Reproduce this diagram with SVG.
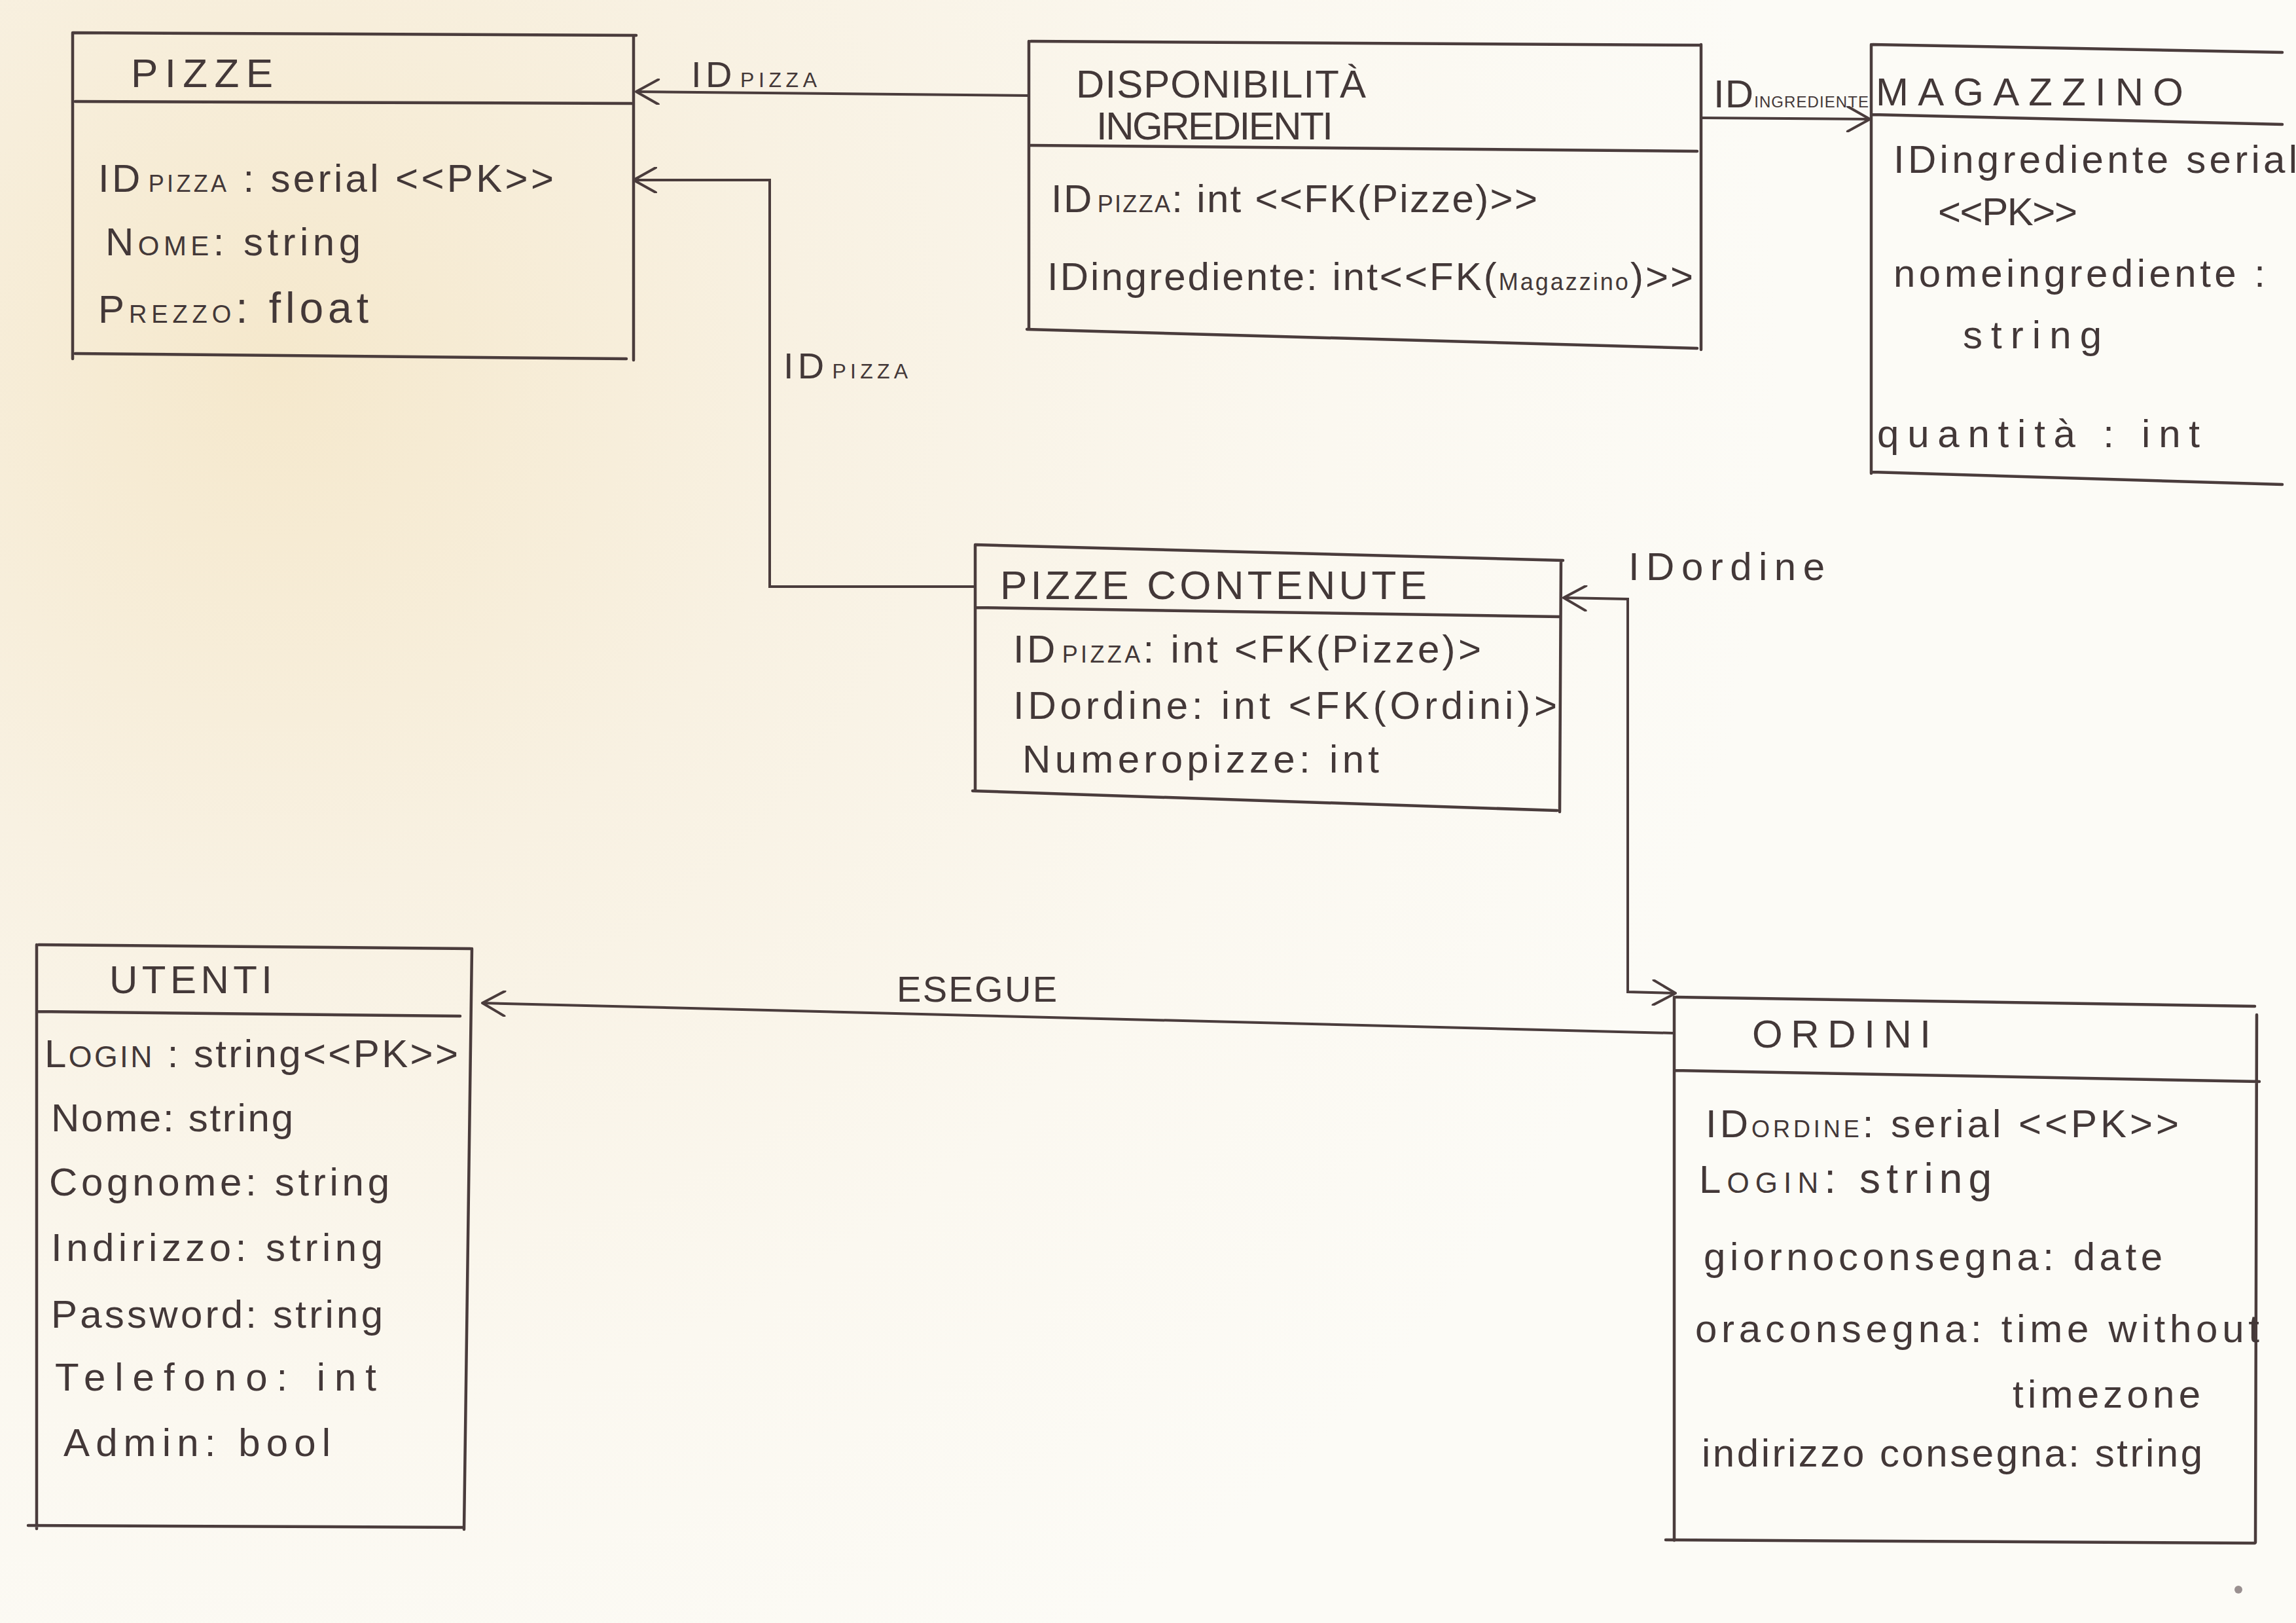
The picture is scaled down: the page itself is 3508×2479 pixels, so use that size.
<svg xmlns="http://www.w3.org/2000/svg" width="3508" height="2479" viewBox="0 0 3508 2479">
<defs>
<radialGradient id="paper" cx="420" cy="560" r="2300" gradientUnits="userSpaceOnUse">
<stop offset="0" stop-color="#f5e8cc"/>
<stop offset="0.35" stop-color="#f8f1e2"/>
<stop offset="0.7" stop-color="#fbf8f0"/>
<stop offset="1" stop-color="#fcfbf6"/>
</radialGradient>
<marker id="arr" viewBox="0 0 40 40" refX="37" refY="20" markerWidth="40" markerHeight="40" markerUnits="userSpaceOnUse" orient="auto-start-reverse">
<path d="M3,1 L37,20 L3,39" fill="none" stroke="#4a3c3c" stroke-width="4" stroke-linecap="round" stroke-linejoin="round"/>
</marker>
<style>
.box{fill:none;stroke:#4a3c3c;stroke-width:4.5;stroke-linecap:round}
.conn{fill:none;stroke:#4a3c3c;stroke-width:4}
text{font-family:"Liberation Sans","DejaVu Sans",sans-serif;fill:#433838;font-size:60px}
.ttl{font-size:62px}
.lbl{font-size:56px}
</style>
</defs>
<rect x="0" y="0" width="3508" height="2479" fill="url(#paper)"/>

<g id="connectors">
<path class="conn" d="M1572,146 L972,140" marker-end="url(#arr)"/>
<path class="conn" d="M1490,896 L1176,896 L1176,275 L968,275" marker-end="url(#arr)"/>
<path class="conn" d="M2600,180 L2857,182" marker-end="url(#arr)"/>
<path class="conn" d="M2389,913 L2487,915 L2487,1515 L2560,1517" marker-start="url(#arr)" marker-end="url(#arr)"/>
<path class="conn" d="M2556,1578 L737,1532" marker-end="url(#arr)"/>
<text class="lbl" x="1056" y="133" textLength="192"><tspan>ID</tspan><tspan font-size="32" dx="6">PIZZA</tspan></text>
<text class="lbl" x="1197" y="578" textLength="190"><tspan>ID</tspan><tspan font-size="32" dx="6">PIZZA</tspan></text>
<text x="2618" y="164" font-size="34" textLength="237"><tspan>ID</tspan><tspan font-size="24">INGREDIENTE</tspan></text>
<text x="2488" y="886" font-size="62" textLength="300">IDordine</text>
<text class="lbl" x="1370" y="1530" textLength="245">ESEGUE</text>
</g>

<g id="node-pizze">
<path class="box" d="M111,50 L972,54 M111,50 L111,548 M968,54 L968,550 M115,155 L965,158 M115,540 L957,548"/>
<text class="ttl" x="200" y="133" textLength="217">PIZZE</text>
<text x="150" y="293" textLength="696"><tspan>ID</tspan><tspan font-size="36" dx="8">PIZZA</tspan><tspan> : serial &lt;&lt;PK&gt;&gt;</tspan></text>
<text x="161" y="390" textLength="390"><tspan>N</tspan><tspan font-size="42">OME</tspan><tspan>: string</tspan></text>
<text x="150" y="493" textLength="413"><tspan>P</tspan><tspan font-size="38">REZZO</tspan><tspan font-size="66">: float</tspan></text>
</g>

<g id="node-disponibilita">
<path class="box" d="M1575,63 L2599,69 M1572,63 L1572,503 M2599,68 L2599,534 M1575,222 L2593,231 M1569,503 L2593,532"/>
<text x="1644" y="149" font-size="54" textLength="443">DISPONIBILITÀ</text>
<text x="1675" y="213" font-size="50" textLength="362">INGREDIENTI</text>
<text x="1606" y="324" textLength="743"><tspan>ID</tspan><tspan font-size="36" dx="6">PIZZA</tspan><tspan>: int &lt;&lt;FK(Pizze)&gt;&gt;</tspan></text>
<text x="1600" y="443" textLength="987"><tspan>IDingrediente: int&lt;&lt;FK(</tspan><tspan font-size="36">Magazzino</tspan><tspan>)&gt;&gt;</tspan></text>
</g>

<g id="node-magazzino">
<path class="box" d="M2861,68 L3487,80 M2859,68 L2859,723 M2861,175 L3487,190 M2861,721 L3487,740"/>
<text x="2866" y="161" font-size="64" textLength="470">MAGAZZINO</text>
<text x="2893" y="264" textLength="617">IDingrediente serial</text>
<text x="2961" y="344" textLength="213">&lt;&lt;PK&gt;&gt;</text>
<text x="2893" y="438" textLength="568">nomeingrediente :</text>
<text x="2999" y="532" font-size="68" textLength="212">string</text>
<text x="2868" y="683" font-size="66" textLength="493">quantità : int</text>
</g>

<g id="node-pizze-contenute">
<path class="box" d="M1490,832 L2388,856 M1490,832 L1490,1208 M2385,856 L2383,1240 M1490,928 L2383,942 M1486,1208 L2379,1238"/>
<text class="ttl" x="1528" y="915" textLength="652">PIZZE CONTENUTE</text>
<text x="1548" y="1012" textLength="715"><tspan>ID</tspan><tspan font-size="36" dx="6">PIZZA</tspan><tspan>: int &lt;FK(Pizze)&gt;</tspan></text>
<text x="1548" y="1098" textLength="831">IDordine: int &lt;FK(Ordini)&gt;</text>
<text x="1562" y="1180" textLength="545">Numeropizze: int</text>
</g>

<g id="node-utenti">
<path class="box" d="M59,1443 L719,1449 M56,1443 L56,2335 M721,1449 L709,2336 M56,1545 L703,1552 M43,2330 L709,2333"/>
<text x="167" y="1517" font-size="56" textLength="249">UTENTI</text>
<text x="68" y="1630" textLength="632"><tspan>L</tspan><tspan font-size="46">OGIN</tspan><tspan> : string&lt;&lt;PK&gt;&gt;</tspan></text>
<text x="78" y="1728" textLength="370">Nome: string</text>
<text x="75" y="1826" textLength="520">Cognome: string</text>
<text x="78" y="1926" textLength="507">Indirizzo: string</text>
<text x="78" y="2028" textLength="507">Password: string</text>
<text x="84" y="2124" font-size="66" textLength="491">Telefono: int</text>
<text x="97" y="2224" textLength="408">Admin: bool</text>
</g>

<g id="node-ordini">
<path class="box" d="M2561,1523 L3445,1537 M2558,1523 L2558,2353 M3448,1550 L3446,2356 M2558,1635 L3452,1652 M2545,2352 L3445,2357"/>
<text x="2677" y="1600" font-size="60" textLength="273">ORDINI</text>
<text x="2606" y="1737" textLength="723"><tspan>ID</tspan><tspan font-size="36">ORDINE</tspan><tspan>: serial &lt;&lt;PK&gt;&gt;</tspan></text>
<text x="2596" y="1822" textLength="447"><tspan>L</tspan><tspan font-size="44">OGIN</tspan><tspan font-size="64">: string</tspan></text>
<text x="2603" y="1940" textLength="701">giornoconsegna: date</text>
<text x="2590" y="2050" textLength="862">oraconsegna: time without</text>
<text x="3075" y="2150" textLength="287">timezone</text>
<text x="2600" y="2240" textLength="765">indirizzo consegna: string</text>
</g>
<circle cx="3420" cy="2428" r="6" fill="#9a9090"/>
</svg>
